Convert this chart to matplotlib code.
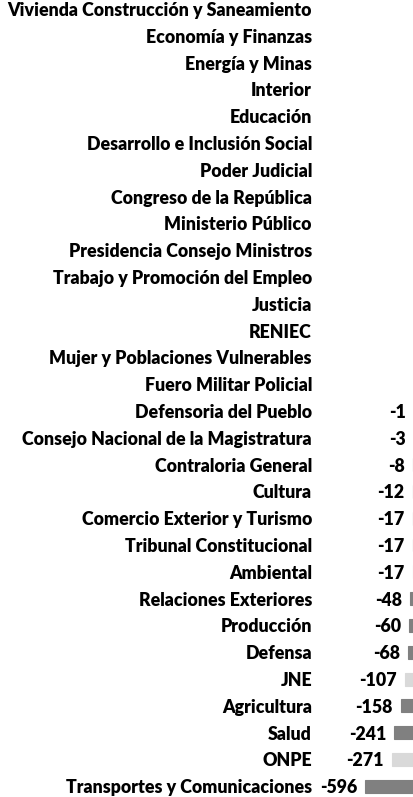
import numpy as np
import matplotlib
matplotlib.use("Agg")
import matplotlib.pyplot as plt

plt.rcParams["font.family"] = ["Lato", "DejaVu Sans"]

# sectors, top to bottom; the upper ones have positive values outside the visible crop
sectors = [
    "Vivienda Construcción y Saneamiento", "Economía y Finanzas", "Energía y Minas",
    "Interior", "Educación", "Desarrollo e Inclusión Social", "Poder Judicial",
    "Congreso de la República", "Ministerio Público", "Presidencia Consejo Ministros",
    "Trabajo y Promoción del Empleo", "Justicia", "RENIEC",
    "Mujer y Poblaciones Vulnerables", "Fuero Militar Policial",
    "Defensoria del Pueblo", "Consejo Nacional de la Magistratura",
    "Contraloria General", "Cultura", "Comercio Exterior y Turismo",
    "Tribunal Constitucional", "Ambiental", "Relaciones Exteriores", "Producción",
    "Defensa", "JNE", "Agricultura", "Salud", "ONPE",
    "Transportes y Comunicaciones",
]
values = [np.nan] * 15 + [-1, -3, -8, -12, -17, -17, -17, -48, -60, -68,
                          -107, -158, -241, -271, -596]
autonomous = [False] * 21 + [True, False, False, False, True, False, False, True, False]

DARK, LIGHT = "#808080", "#d9d9d9"
colors = [LIGHT if a else DARK for a in autonomous]
FS = 12.8
WT = "heavy"

fig = plt.figure(figsize=(4.14, 7.97), dpi=100)
ax = fig.add_axes([330 / 414, 0, 84 / 414, 1])

y = np.arange(len(sectors))
vals = np.array(values, dtype=float)
ax.barh(y, np.nan_to_num(vals), height=0.48, color=colors,
        edgecolor=colors, linewidth=0.8)

ax.set_xlim(-1031, 0)
ax.set_ylim(29.4, -0.336)
ax.set_yticks(y)
ax.set_yticklabels(sectors, fontsize=FS, fontweight=WT)
ax.tick_params(axis="y", length=0, pad=13)
ax.set_xticks([])
for s in ax.spines.values():
    s.set_visible(False)

for yi, v in zip(y, vals):
    if np.isnan(v):
        continue
    ax.annotate(f"{v:.0f}", (v, yi), xytext=(-6, 0), textcoords="offset points",
                ha="right", va="center_baseline", fontsize=FS, fontweight=WT,
                annotation_clip=False)

fig.savefig("out.png", dpi=100)
